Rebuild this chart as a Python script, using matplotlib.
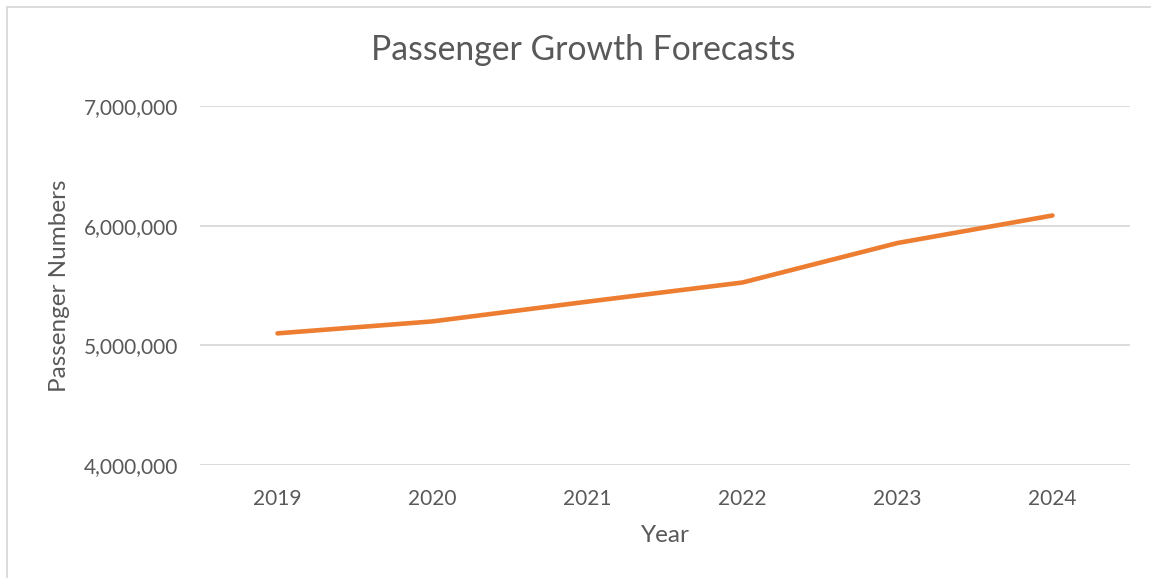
import matplotlib
matplotlib.use("Agg")
from matplotlib import pyplot as plt
from matplotlib.ticker import FuncFormatter, MultipleLocator
from matplotlib.patches import Rectangle

years = ["2019", "2020", "2021", "2022", "2023", "2024"]
passengers = [5100000, 5200000, 5365000, 5525000, 5855000, 6085000]

plt.rcParams['font.family'] = ['Lato', 'DejaVu Sans']
grey = '#595959'

fig = plt.figure(figsize=(11.51, 5.78), dpi=100)
ax = fig.add_axes([200/1151, 1-465/578, 930/1151, 359/578])

x = range(len(years))
ax.plot(x, passengers, color='#ED7D31', linewidth=3.3, solid_capstyle='round',
        solid_joinstyle='round', zorder=3)

ax.set_xlim(-0.5, len(years) - 0.5)
ax.set_ylim(4000000, 7000000)
ax.yaxis.set_major_locator(MultipleLocator(1000000))
ax.yaxis.set_major_formatter(FuncFormatter(lambda v, p: f"{int(v):,}"))
ax.set_xticks(list(x))
ax.set_xticklabels(years)
ax.grid(axis='y', color='#d9d9d9', linewidth=1.3)
ax.grid(axis='x', visible=False)
for s in ['top', 'right', 'left', 'bottom']:
    ax.spines[s].set_visible(False)
ax.tick_params(length=0, labelsize=15, labelcolor=grey)
ax.tick_params(axis='y', pad=16)
ax.tick_params(axis='x', pad=17)

# axis titles and chart title placed like the Excel layout
fig.text(60/1151, 1-286/578, "Passenger Numbers", fontsize=17.5, color=grey,
         rotation=90, ha='center', va='center')
fig.text(665/1151, 1-535/578, "Year", fontsize=17.5, color=grey,
         ha='center', va='center')
fig.text(583/1151, 1-50/578, "Passenger Growth Forecasts", fontsize=24.3,
         color=grey, ha='center', va='center')

fig.patches.append(Rectangle((7/1151, -0.1), 1.2, 1.1 - 7/578, transform=fig.transFigure,
                             fill=False, edgecolor='#d9d9d9', linewidth=1.3))

fig.savefig('out.png', dpi=100)
